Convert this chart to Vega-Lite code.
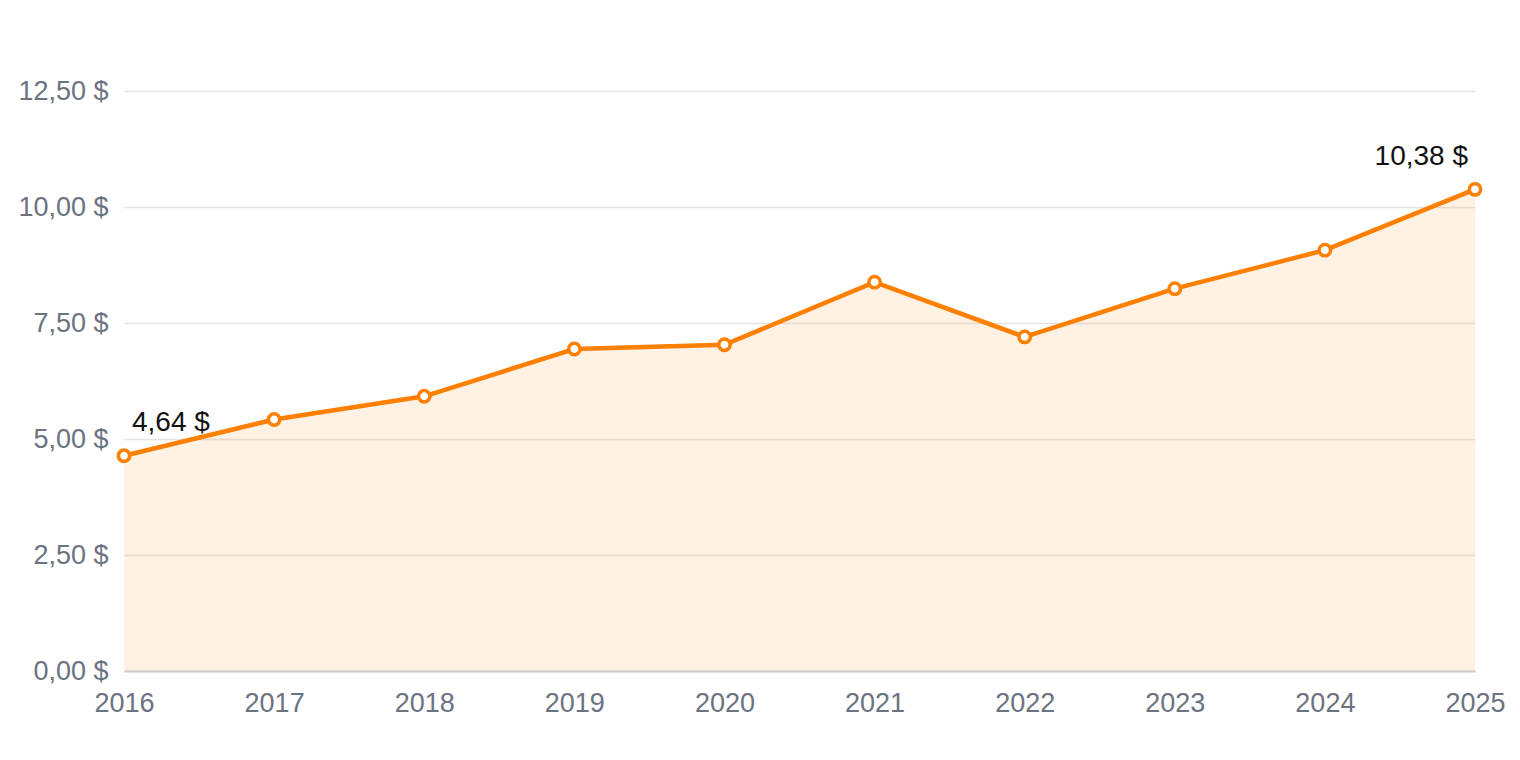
{
  "$schema": "https://vega.github.io/schema/vega-lite/v6.json",
  "width": 1351,
  "height": 580,
  "autosize": "none",
  "padding": {"left": 124, "top": 91, "right": 45, "bottom": 89},
  "background": "white",
  "data": {
    "values": [
      {"year": "2016", "price": 4.64},
      {"year": "2017", "price": 5.42},
      {"year": "2018", "price": 5.92},
      {"year": "2019", "price": 6.94},
      {"year": "2020", "price": 7.03},
      {"year": "2021", "price": 8.38},
      {"year": "2022", "price": 7.20},
      {"year": "2023", "price": 8.24},
      {"year": "2024", "price": 9.07},
      {"year": "2025", "price": 10.38}
    ]
  },
  "encoding": {
    "x": {
      "field": "year",
      "type": "ordinal",
      "scale": {"type": "point", "padding": 0},
      "axis": {
        "title": null,
        "labelAngle": 0,
        "ticks": false,
        "labelPadding": 19,
        "domainColor": "#cccccc",
        "domainWidth": 2
      }
    },
    "y": {
      "field": "price",
      "type": "quantitative",
      "scale": {"domain": [0, 12.5], "nice": false},
      "axis": {
        "title": null,
        "values": [0, 2.5, 5, 7.5, 10, 12.5],
        "format": "$.2f",
        "domain": false,
        "ticks": false,
        "labelPadding": 16,
        "gridColor": "#e4e4e4",
        "gridWidth": 1.5
      }
    }
  },
  "layer": [
    {"mark": {"type": "area", "color": "#ff7f00", "opacity": 0.1}},
    {"mark": {"type": "line", "color": "#ff7f00", "strokeWidth": 4.5}},
    {
      "mark": {"type": "point", "shape": "circle", "filled": true, "fill": "white", "stroke": "#ff7f00", "strokeWidth": 3.5, "size": 130, "opacity": 1}
    },
    {
      "transform": [{"filter": "datum.year == '2016'"}],
      "mark": {"type": "text", "align": "left", "baseline": "middle", "dx": 8, "dy": -33, "fontSize": 28, "fontWeight": 500, "color": "#111111", "font": "Liberation Sans"},
      "encoding": {"text": {"field": "price", "type": "quantitative", "format": "$.2f"}}
    },
    {
      "transform": [{"filter": "datum.year == '2025'"}],
      "mark": {"type": "text", "align": "right", "baseline": "middle", "dx": -7, "dy": -32, "fontSize": 28, "fontWeight": 500, "color": "#111111", "font": "Liberation Sans"},
      "encoding": {"text": {"field": "price", "type": "quantitative", "format": "$.2f"}}
    }
  ],
  "config": {
    "locale": {
      "number": {
        "decimal": ",",
        "thousands": ".",
        "grouping": [3],
        "currency": ["", " $"]
      }
    },
    "view": {"stroke": null},
    "axis": {
      "labelFont": "Liberation Sans",
      "labelFontSize": 27,
      "labelColor": "#6b7280"
    }
  }
}
